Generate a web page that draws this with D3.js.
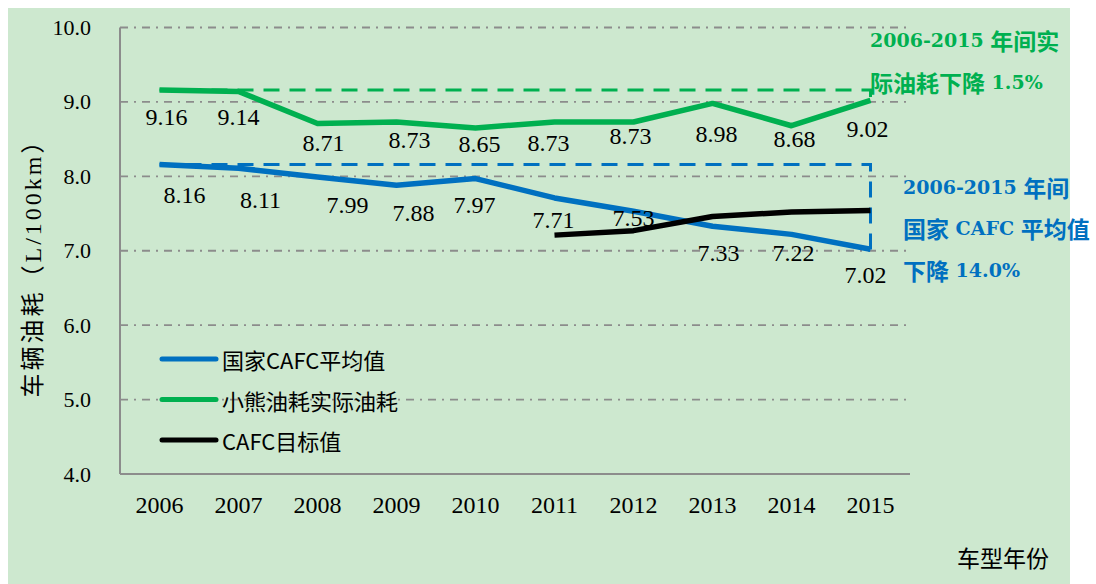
<!DOCTYPE html>
<html lang="zh">
  <head>
    <meta charset="utf-8">
    <script src="https://d3js.org/d3.v7.min.js"></script>
    <style>
      body {margin: 0; background: #fff;}
      .num {font-family: "Liberation Serif", serif; fill: #000;}
      .cjk {font-family: "Noto Sans CJK SC", sans-serif;}
      .note {font-family: "DejaVu Serif", "Noto Sans CJK SC", serif; font-weight: bold; font-size: 19px;}
      .note .han {font-family: "Noto Sans CJK SC", sans-serif; font-size: 23px;}
    </style>
  </head>
  <body>
    <script type="text/javascript">
      // data
      const years = ["2006", "2007", "2008", "2009", "2010", "2011", "2012", "2013", "2014", "2015"];
      const cafcAvg = [8.16, 8.11, 7.99, 7.88, 7.97, 7.71, 7.53, 7.33, 7.22, 7.02];
      const xiaoxiong = [9.16, 9.14, 8.71, 8.73, 8.65, 8.73, 8.73, 8.98, 8.68, 9.02];
      const targetYears = ["2011", "2012", "2013", "2014", "2015"];
      const cafcTarget = [7.21, 7.27, 7.46, 7.52, 7.54];
      const yTicks = [4, 5, 6, 7, 8, 9, 10];
      const seriesNames = ["国家CAFC平均值", "小熊油耗实际油耗", "CAFC目标值"];
      const blueDropEnd = 6.9;

      // hand placed label nudges (dx, dy) from the point, like the original
      const greenNudge = [[7, 27], [0, 26], [6, 20], [13, 18], [4, 16], [-6, 21], [-3, 14], [4, 31], [3, 13], [-3, 29]];
      const blueNudge = [[25, 31], [22, 32], [30, 28], [17, 28], [-1, 26], [-1, 22], [0, 7], [6, 27], [2, 19], [-5, 26]];

      const w = 1096;
      const h = 584;
      const plot = {left: 120, right: 910, top: 27.5, bottom: 474};
      const blue = "#0070c0";
      const green = "#00b050";
      const grey = "#8c8c8c";

      var svg = d3.select("body")
            .append("svg")
            .attr("width", w)
            .attr("height", h);

      svg.append("rect")
          .attr("x", 8).attr("y", 8)
          .attr("width", 1062).attr("height", h - 8)
          .attr("fill", "#cde8cf");

      var x = d3.scaleBand()
            .domain(years)
            .range([plot.left, plot.right]);
      var cx = function(d) { return x(d) + x.bandwidth() / 2; };
      var y = d3.scaleLinear()
            .domain([4, 10])
            .range([plot.bottom, plot.top]);

      // gridlines
      svg.append("g")
          .selectAll("line")
          .data(yTicks.slice(1))
          .enter()
          .append("line")
          .attr("x1", plot.left).attr("x2", plot.right - 2)
          .attr("y1", function(d) { return y(d); })
          .attr("y2", function(d) { return y(d); })
          .attr("stroke", grey)
          .attr("stroke-width", 1.8)
          .attr("stroke-dasharray", "8 6 2 6");

      // axes
      var yAxis = svg.append("g")
          .attr("transform", "translate(" + plot.left + ",0)")
          .call(d3.axisLeft(y).tickValues(yTicks).tickFormat(d3.format(".1f")).tickSize(0).tickPadding(29));
      yAxis.select(".domain").remove();
      yAxis.selectAll("text").attr("class", "num").style("font-size", "22px");

      var xAxis = svg.append("g")
          .attr("transform", "translate(0," + plot.bottom + ")")
          .call(d3.axisBottom(x).tickSize(0).tickPadding(22));
      xAxis.select(".domain").remove();
      xAxis.selectAll("text").attr("class", "num").style("font-size", "24px");

      svg.append("line")
          .attr("x1", plot.left).attr("x2", plot.left)
          .attr("y1", plot.top).attr("y2", plot.bottom)
          .attr("stroke", grey).attr("stroke-width", 2);
      svg.append("line")
          .attr("x1", plot.left).attr("x2", plot.right)
          .attr("y1", plot.bottom).attr("y2", plot.bottom)
          .attr("stroke", grey).attr("stroke-width", 2);

      // dashed reference boxes
      var last = years[years.length - 1];
      var ref = d3.line().x(function(d) { return d[0]; }).y(function(d) { return y(d[1]); });
      svg.append("path")
          .attr("d", ref([[cx(years[0]), xiaoxiong[0]], [cx(last), xiaoxiong[0]], [cx(last), xiaoxiong[9]]]))
          .attr("fill", "none").attr("stroke", green).attr("stroke-width", 3)
          .attr("stroke-dasharray", "16 10");
      svg.append("path")
          .attr("d", ref([[cx(years[0]), cafcAvg[0]], [cx(last), cafcAvg[0]], [cx(last), blueDropEnd]]))
          .attr("fill", "none").attr("stroke", blue).attr("stroke-width", 3)
          .attr("stroke-dasharray", "16 10");

      // series lines
      var line = d3.line()
            .x(function(d) { return cx(d[0]); })
            .y(function(d) { return y(d[1]); });
      var series = [
        {pts: d3.zip(years, cafcAvg), color: blue},
        {pts: d3.zip(years, xiaoxiong), color: green},
        {pts: d3.zip(targetYears, cafcTarget), color: "#000"}
      ];
      svg.append("g")
          .selectAll("path")
          .data(series)
          .enter()
          .append("path")
          .attr("d", function(d) { return line(d.pts); })
          .attr("fill", "none")
          .attr("stroke", function(d) { return d.color; })
          .attr("stroke-width", 5.5)
          .attr("stroke-linejoin", "round");

      // data labels
      function labels(values, nudge) {
        svg.append("g")
            .selectAll("text")
            .data(values)
            .enter()
            .append("text")
            .attr("class", "num")
            .attr("x", function(d, i) { return cx(years[i]) + nudge[i][0]; })
            .attr("y", function(d, i) { return y(d) + nudge[i][1]; })
            .attr("text-anchor", "middle")
            .attr("dominant-baseline", "central")
            .style("font-size", "24px")
            .text(function(d) { return d.toFixed(2); });
      }
      labels(xiaoxiong, greenNudge);
      labels(cafcAvg, blueNudge);

      // legend
      var legend = svg.append("g")
          .selectAll("g")
          .data(seriesNames)
          .enter()
          .append("g")
          .attr("transform", function(d, i) { return "translate(162," + (359 + i * 40.5) + ")"; });
      legend.append("line")
          .attr("x1", 0).attr("x2", 54)
          .attr("stroke", function(d, i) { return series[i].color; })
          .attr("stroke-width", 5)
          .attr("stroke-linecap", "round");
      legend.append("text")
          .attr("class", "cjk")
          .attr("x", 60)
          .attr("dominant-baseline", "central")
          .style("font-size", "22px")
          .text(function(d) { return d; });

      // annotations, chinese runs get a bigger size
      var notes = [
        {t: "2006-2015 年间实", x: 870, y: 40, c: green},
        {t: "际油耗下降 1.5%", x: 870, y: 82, c: green},
        {t: "2006-2015 年间", x: 903, y: 187, c: blue},
        {t: "国家 CAFC 平均值", x: 903, y: 228, c: blue},
        {t: "下降 14.0%", x: 903, y: 270, c: blue}
      ];
      var noteText = svg.append("g")
          .selectAll("text")
          .data(notes)
          .enter()
          .append("text")
          .attr("class", "note")
          .attr("x", function(d) { return d.x; })
          .attr("y", function(d) { return d.y; })
          .attr("dominant-baseline", "central")
          .attr("fill", function(d) { return d.c; });
      noteText.selectAll("tspan")
          .data(function(d) { return d.t.match(/[\u4e00-\u9fff]+|[^\u4e00-\u9fff]+/g); })
          .enter()
          .append("tspan")
          .attr("dominant-baseline", "central")
          .attr("class", function(d) { return /[\u4e00-\u9fff]/.test(d) ? "han" : null; })
          .text(function(d) { return d; });

      // axis titles
      svg.append("text")
          .attr("transform", "translate(33,262) rotate(-90)")
          .attr("text-anchor", "middle")
          .attr("dominant-baseline", "central")
          .style("font-family", "'Liberation Serif', 'Noto Sans CJK SC', serif")
          .style("font-size", "24px")
          .style("letter-spacing", "3px")
          .text("车辆油耗（L/100km）");
      svg.append("text")
          .attr("class", "cjk")
          .attr("x", 1003).attr("y", 557)
          .attr("text-anchor", "middle")
          .attr("dominant-baseline", "central")
          .style("font-size", "23px")
          .text("车型年份");
    </script>
  </body>
</html>
